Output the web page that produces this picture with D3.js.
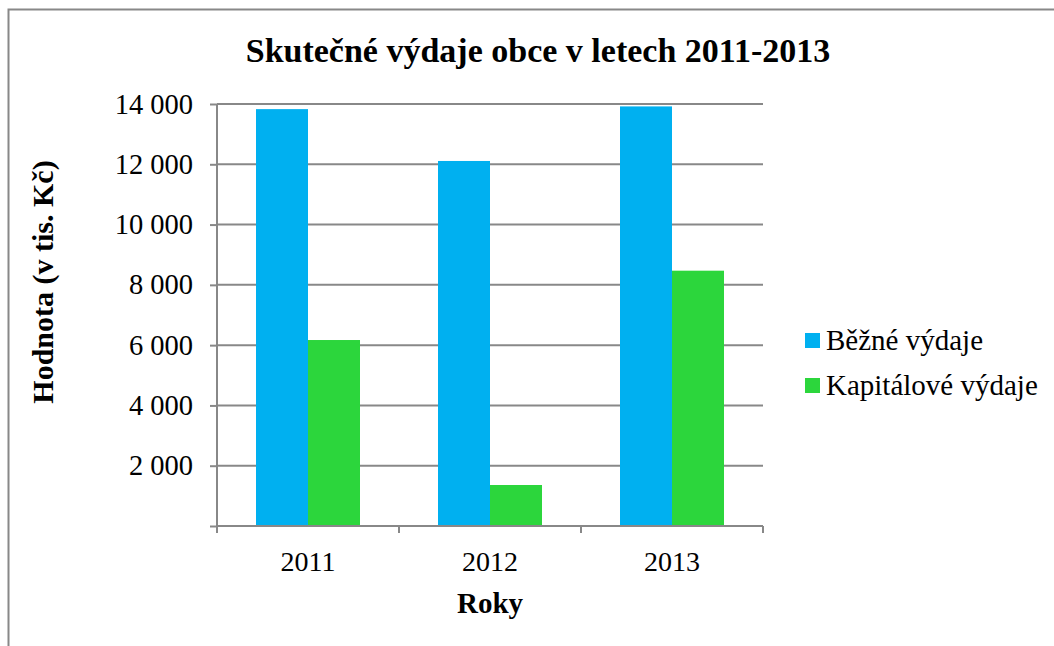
<!DOCTYPE html>
<html>
<head>
<meta charset="utf-8">
<script src="https://cdn.jsdelivr.net/npm/d3@7"></script>
<style>
  body { margin: 0; background: #fff; }
  .grid line { stroke: #888; stroke-width: 2; }
  .axis path, .axis line { stroke: #888; stroke-width: 2; }
</style>
</head>
<body>
<div id="chart"></div>
<script>
// data
var years = ["2011", "2012", "2013"];
var seriesNames = ["Běžné výdaje", "Kapitálové výdaje"];
var bezne = [13830, 12110, 13920];
var kapitalove = [6170, 1360, 8470];
var yTicks = [2000, 4000, 6000, 8000, 10000, 12000, 14000];
var colors = ["#00b0f0", "#2cd63c"];

var serif = "Liberation Serif";
var W = 1054, H = 646;
var margin = { left: 217, top: 104, right: 291, bottom: 120 };
var width = W - margin.left - margin.right;
var height = H - margin.top - margin.bottom;

var svg = d3.select("#chart").append("svg")
  .attr("width", W)
  .attr("height", H)
  .attr("font-family", serif);

// outer frame
svg.append("rect")
  .attr("x", 8.5).attr("y", 9.5)
  .attr("width", 1060).attr("height", 660)
  .attr("fill", "none").attr("stroke", "#888").attr("stroke-width", 2);

var g = svg.append("g")
  .attr("transform", "translate(" + margin.left + "," + margin.top + ")");

var x0 = d3.scaleBand().domain(years).range([0, width]);
// two bars in a band, gap width 150 %
var gap = x0.bandwidth() * 0.75 / 3.5;
var x1 = d3.scaleBand().domain([0, 1]).range([gap, x0.bandwidth() - gap]);
var y = d3.scaleLinear().domain([0, 14000]).range([height, 0]);

// gridlines
g.append("g").attr("class", "grid")
  .selectAll("line").data(yTicks).enter().append("line")
  .attr("x1", 0).attr("x2", width)
  .attr("y1", function (d) { return y(d); })
  .attr("y2", function (d) { return y(d); });

// bars
var rows = years.map(function (yr, i) { return { year: yr, vals: [bezne[i], kapitalove[i]] }; });
var grp = g.selectAll(".yr").data(rows).enter().append("g")
  .attr("transform", function (d) { return "translate(" + x0(d.year) + ",0)"; });
grp.selectAll("rect").data(function (d) { return d.vals; }).enter().append("rect")
  .attr("x", function (d, i) { return x1(i); })
  .attr("width", x1.bandwidth())
  .attr("y", function (d) { return y(d); })
  .attr("height", function (d) { return height - y(d); })
  .attr("fill", function (d, i) { return colors[i]; });

// y axis
var fmt = function (d) { return d3.format(",")(d).replace(/,/g, " "); };
var yAxis = g.append("g").attr("class", "axis")
  .call(d3.axisLeft(y).tickValues([0].concat(yTicks)).tickSize(7).tickPadding(17)
    .tickFormat(function (d) { return d === 0 ? "" : fmt(d); }));
yAxis.attr("font-family", serif).attr("font-size", 28.5);
yAxis.selectAll("text").attr("fill", "#000");
yAxis.select(".domain").attr("d", "M0," + height + "V" + y(14000));

// x axis
var xAxis = g.append("g").attr("class", "axis")
  .attr("transform", "translate(0," + height + ")")
  .call(d3.axisBottom(x0).tickSize(0).tickPadding(25));
xAxis.attr("font-family", serif).attr("font-size", 28);
xAxis.selectAll("text").attr("fill", "#000");
xAxis.select(".domain").attr("d", "M0,0H" + width);
xAxis.selectAll(".sep").data(years.concat(["end"])).enter().append("line")
  .attr("class", "sep")
  .attr("x1", function (d, i) { return i * x0.bandwidth(); })
  .attr("x2", function (d, i) { return i * x0.bandwidth(); })
  .attr("y1", 0).attr("y2", 7);

// titles
svg.append("text")
  .attr("x", 538).attr("y", 62)
  .attr("text-anchor", "middle")
  .attr("font-size", 34).attr("font-weight", "bold")
  .text("Skutečné výdaje obce v letech 2011-2013");

svg.append("text")
  .attr("transform", "translate(53,282) rotate(-90)")
  .attr("text-anchor", "middle")
  .attr("font-size", 30).attr("font-weight", "bold")
  .text("Hodnota (v tis. Kč)");

svg.append("text")
  .attr("x", margin.left + width / 2).attr("y", 613)
  .attr("text-anchor", "middle")
  .attr("font-size", 29).attr("font-weight", "bold")
  .text("Roky");

// legend
var leg = svg.append("g").attr("transform", "translate(805,333)");
var item = leg.selectAll("g").data(seriesNames).enter().append("g")
  .attr("transform", function (d, i) { return "translate(0," + i * 45 + ")"; });
item.append("rect").attr("width", 15).attr("height", 15)
  .attr("fill", function (d, i) { return colors[i]; });
item.append("text").attr("x", 21).attr("y", 17)
  .attr("font-size", 29)
  .text(function (d) { return d; });
</script>
</body>
</html>
